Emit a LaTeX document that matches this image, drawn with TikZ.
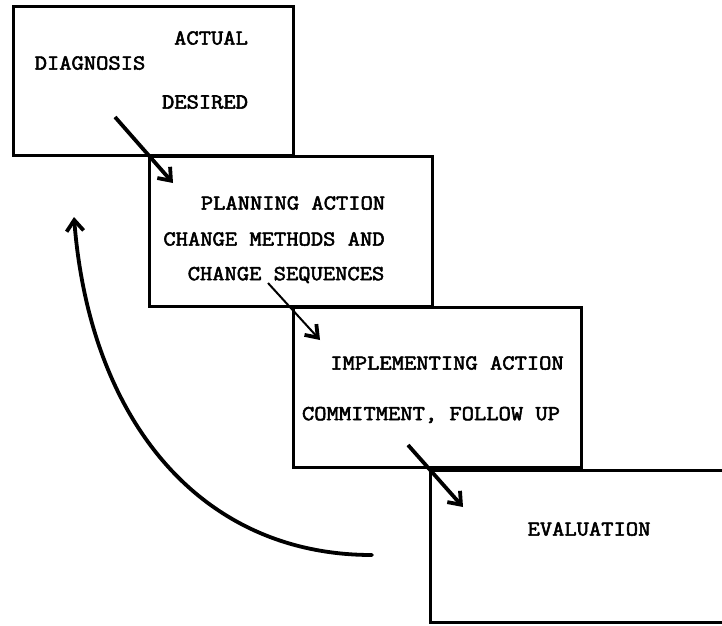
\documentclass[tikz,border=0pt]{standalone}
\usepackage{fontspec}
\usepackage{graphicx}
\newfontfamily\typew{Latin Modern Mono}[FakeBold=2.4]
\newcommand{\twtext}[1]{\scalebox{1.12}[1]{#1}}
\usetikzlibrary{arrows.meta}
\tikzset{
  box/.style={draw=black, line width=3pt, inner sep=0pt, minimum width=#1},
  lbl/.style={font=\typew\fontsize{21.3}{23}\selectfont, inner sep=0pt, anchor=center},
  bold arrow/.style={line width=3.8pt, -{Straight Barb[length=11pt,width=17pt,line width=3.8pt]}},
  thin arrow/.style={line width=2pt, -{Straight Barb[length=11pt,width=16pt,line width=3.8pt]}},
}
\begin{document}
\begin{tikzpicture}[x=1pt,y=-1pt]
\useasboundingbox (0,0) rectangle (722,625);
\clip (0,0) rectangle (722,625);
\fill[white] (0,0) rectangle (722,625);
% boxes
\node[box=280pt, minimum height=149pt] (b1) at (153,80.5) {};
\node[box=283pt, minimum height=150pt] (b2) at (290.5,231) {};
\node[box=288pt, minimum height=160pt] (b3) at (437,387.5) {};
\node[box=330pt, minimum height=152pt] (b4) at (595,546) {};
% labels
\node[lbl] (t1a) at (211,38) {\twtext{ACTUAL}};
\node[lbl] (t1b) at (90,63) {\twtext{DIAGNOSIS}};
\node[lbl] (t1c) at (205,102) {\twtext{DESIRED}};
\node[lbl] (t2a) at (293,203) {\twtext{PLANNING ACTION}};
\node[lbl] (t2b) at (274,239) {\twtext{CHANGE METHODS AND}};
\node[lbl] (t2c) at (286,275) {\twtext{CHANGE SEQUENCES}};
\node[lbl] (t3a) at (447,363) {\twtext{IMPLEMENTING ACTION}};
\node[lbl] (t3b) at (431,415) {\twtext{COMMITMENT, FOLLOW UP}};
\node[lbl] (t4a) at (589,529) {\twtext{EVALUATION}};
% arrow end points
\coordinate (a1s) at (115,117);
\coordinate (a1e) at (173,183);
\coordinate (a2s) at (268,283);
\coordinate (a2e) at (320,340);
\coordinate (a3s) at (408,445);
\coordinate (a3e) at (463,507);
\coordinate (cs) at (372,555);
\coordinate (ce) at (74,217);
\draw[bold arrow] (a1s) -- (a1e);
\draw[thin arrow] (a2s) -- (a2e);
\draw[bold arrow] (a3s) -- (a3e);
\draw[bold arrow, line cap=round] (cs) .. controls (200,555) and (90,420) .. (ce);
\end{tikzpicture}
\end{document}
